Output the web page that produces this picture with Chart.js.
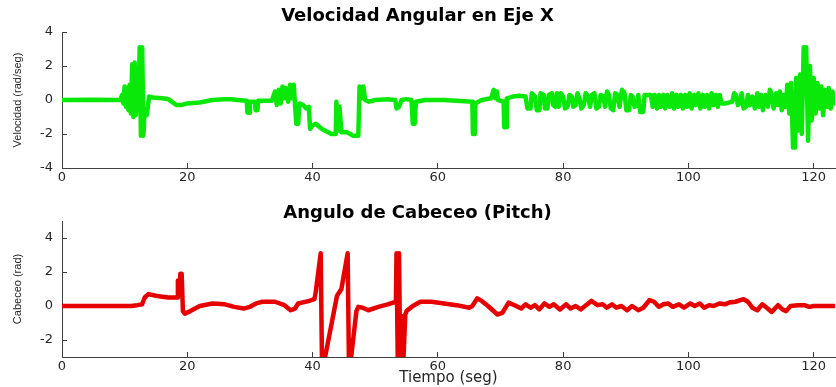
<!DOCTYPE html>
<html>
<head>
<meta charset="utf-8">
<script src="https://cdn.jsdelivr.net/npm/chart.js@4.4.1/dist/chart.umd.min.js"></script>
<style>
html,body{margin:0;padding:0;background:#fff;}
#top{position:absolute;left:0;top:0;width:836px;height:195px;}
#bot{position:absolute;left:0;top:195px;width:836px;height:192px;}
</style>
</head>
<body>
<div id="top"><canvas id="c1"></canvas></div>
<div id="bot"><canvas id="c2"></canvas></div>
<script>
// ---- data ----
const titleTop = "Velocidad Angular en Eje X";
const titleBottom = "Angulo de Cabeceo (Pitch)";
const yLabelTop = "Velocidad (rad/seg)";
const yLabelBottom = "Cabeceo (rad)";
const xLabel = "Tiempo (seg)";

const xTicks = [0, 20, 40, 60, 80, 100, 120];
const yTicksTop = [-4, -2, 0, 2, 4];
const yTicksBottom = [-2, 0, 2, 4];

const velTime = [0,5,9.3,9.6,9.8,10.0,10.2,10.4,10.6,10.8,11.0,11.2,11.4,11.6,11.8,12.0,12.2,12.4,12.6,12.8,13.0,13.2,13.5,13.7,13.9,14.5,16,17,17.5,18.3,19,20,22,24,26,27,28,29.5,29.6,29.9,30.0,30.8,30.9,31.2,31.3,33.5,34.0,34.3,34.6,34.9,35.2,35.5,35.8,36.1,36.4,36.7,37.0,37.2,37.4,37.7,37.9,38.5,39.0,39.4,39.6,40.0,40.5,41.5,43,43.7,43.8,44.1,44.3,44.6,45.5,46.5,47.3,47.5,47.8,48.1,48.4,49,50,52,53.2,53.4,53.8,54.2,55,55.8,56.0,56.3,56.5,58,61,63,65.5,65.6,65.9,66.0,67,68.5,68.9,69.2,69.4,69.6,70.5,70.6,70.9,71.0,72,73,74,74.3,74.8,75.0,75.5,75.8,76.2,76.4,76.9,77.1,77.5,77.7,78.2,78.4,78.8,79.0,79.3,79.6,80.0,80.3,80.7,81.0,81.4,81.6,82.0,82.3,82.6,82.9,83.3,83.6,84.0,84.3,84.6,85.0,85.3,85.7,86.0,86.4,86.7,87.0,87.3,87.6,88.0,88.3,88.7,89.0,89.4,89.8,90.1,90.5,90.8,91.1,91.4,91.8,92.0,92.3,92.8,93.0,94.0,94.3,94.6,95.0,95.3,95.6,96.0,96.3,96.6,97.0,97.4,97.7,98.1,98.4,98.8,99.1,99.5,99.8,100.2,100.5,100.9,101.2,101.6,101.9,102.3,102.6,103.0,103.3,103.7,104.0,104.4,104.7,105.0,105.3,106,107,107.3,107.6,107.9,108.2,108.5,108.8,109.2,109.5,109.8,110.2,110.6,111.0,111.3,111.6,111.9,112.3,112.7,113.0,113.3,113.6,114.0,114.3,114.6,114.9,115.2,115.5,115.8,116.1,116.4,116.7,117.0,117.2,117.5,117.8,118.1,118.4,118.8,119.1,119.4,119.7,120.0,120.3,120.6,120.9,121.2,121.5,121.8,122.1,122.4,122.7,123.0,123.3];
const velValue = [0,0.02,0,0.3,-0.2,0.8,-0.4,0.7,-0.6,0.9,-0.8,2.1,-1.0,2.2,-0.9,1.5,-0.6,3.1,-2.1,3.1,-2.1,-0.5,-0.9,-0.4,0.2,0.15,0.1,0.05,-0.1,-0.3,-0.3,-0.2,-0.15,0,0.05,0.05,0,-0.05,-0.75,-0.75,-0.1,-0.1,-0.6,-0.6,-0.05,-0.05,0.5,-0.3,0.6,-0.2,0.8,0.1,0.7,-0.1,0.9,0.1,0.9,-0.3,-1.4,-1.4,-0.2,-0.3,-0.5,-0.4,-1.7,-1.5,-1.4,-1.7,-2.0,-2.0,-0.1,-1.8,-0.4,-1.9,-1.9,-2.1,-2.1,0.8,0.1,0.8,0,-0.1,0,0.05,0,-0.5,-0.4,0,0.05,0,-1.4,-1.4,-0.1,0,0,-0.05,-0.1,-2.0,-2.0,-0.2,0,0.1,0.6,0.1,0.5,0,-0.1,-1.6,-1.6,0.1,0.2,0.25,0.2,-0.5,-0.5,0.4,0.2,-0.6,-0.6,0.4,0.3,-0.5,-0.5,0.3,0.4,-0.3,-0.4,0.4,-0.4,0.4,0.2,-0.5,-0.4,0.3,0.2,-0.4,-0.3,0.4,0.1,-0.5,-0.3,0.4,0.2,-0.4,0.3,0.4,-0.5,-0.4,0.3,0.2,-0.4,0.5,0.3,-0.5,-0.6,0.4,0.3,-0.4,0.6,0.4,-0.6,-0.6,0.3,0.2,-0.4,-0.3,0.3,-0.7,-0.7,0.3,0.3,-0.4,0.3,-0.5,0.3,-0.4,0.3,-0.5,0.3,-0.4,0.4,-0.5,0.3,-0.4,0.3,-0.5,0.3,-0.4,0.4,-0.5,0.3,-0.3,0.4,-0.5,0.3,-0.4,0.3,-0.5,0.4,-0.3,0.3,-0.4,0.3,-0.2,-0.2,-0.1,0.4,0.3,-0.3,-0.2,0.4,-0.5,-0.4,0.3,-0.3,0.2,-0.5,0.4,-0.4,0.3,-0.6,0.3,-0.4,0.6,0.3,-0.5,0.4,-0.3,0.5,-0.6,0.3,-0.4,0.9,-0.8,1.0,-2.8,-2.8,1.3,-1.8,1.5,-2.0,3.1,3.1,-2.4,2.0,-1.2,1.3,-0.8,1.0,-0.5,0.8,-0.9,0.6,-0.4,0.7,-0.5,0.5,-0.2];

const pitchTime = [0,11,12,12.8,13.2,13.8,15,16,17,18.4,18.5,18.7,18.9,19.0,19.1,19.3,19.6,20.5,22,24,26,27.5,29,30,31,32,34,35.5,36.5,37.2,37.7,39.5,40.3,40.5,41.3,41.5,41.9,43.9,44.6,45.6,45.8,46.1,47.0,47.3,48,48.9,50.5,52,53.3,53.4,53.6,53.8,54.0,54.3,54.5,54.8,55,56,57.2,59,61,63,65,65.5,66.3,67,68,69.5,70.3,71.3,72.5,73.3,74,74.8,75.5,76.2,77,77.8,78.5,79.5,80.5,81.2,82.0,82.8,83.5,84.5,85.5,86.3,87,87.8,88.5,89.3,90.2,91,92.0,92.8,93.8,94.5,95.3,96,96.8,97.5,98.5,99.3,100.3,101.0,101.8,102.5,103.3,104,105,105.8,106.5,107.5,108.8,109.5,110.2,111.0,111.8,112.5,113.3,114.3,115.0,115.6,116.3,117.5,118.5,119.3,120,123.6];
const pitchValue = [0,0,0.05,0.1,0.5,0.7,0.6,0.55,0.5,0.5,1.5,0.8,1.9,1.0,1.9,-0.3,-0.45,-0.3,0,0.15,0.1,-0.05,-0.15,-0.05,0.15,0.25,0.25,0.05,-0.25,-0.15,0.15,0.3,0.4,0.8,3.1,-3.2,-3.2,0.6,1.0,3.1,-3.2,-3.2,-0.3,-0.05,-0.1,-0.25,-0.05,0.1,0.25,3.1,-3.2,3.1,-3.2,-0.6,-3.2,-0.5,-0.3,0.0,0.25,0.25,0.15,0.05,-0.1,0.0,0.45,0.3,0.0,-0.5,-0.4,0.2,0.0,-0.15,0.1,-0.1,0.05,-0.2,0.15,-0.05,0.1,-0.2,0.1,-0.15,0.0,-0.2,0.0,0.3,0.05,0.1,-0.1,0.1,-0.1,0.0,-0.25,0.0,-0.25,-0.1,0.35,0.25,-0.05,0.1,0.15,-0.05,0.1,-0.1,0.15,0.0,0.15,-0.1,0.05,0.0,0.15,0.1,0.2,0.25,0.4,0.25,-0.1,-0.25,0.1,-0.1,-0.35,0.05,-0.2,-0.3,0.0,0.05,0.05,-0.05,0,0];

// ---- styling ----
const axisColor = '#404040';
const tickFont = {family: "'DejaVu Sans', sans-serif", size: 13};
const titleFont = {family: "'DejaVu Sans', sans-serif", size: 18, weight: 'bold', lineHeight: 1};
const yTitleFont = {family: "'Liberation Sans', sans-serif", size: 11, lineHeight: 1.2};
const X_MAX = 123.4;

function pts(t, v) { return t.map((x, i) => ({x: x, y: v[i]})); }

function makeChart(id, cfg) {
  return new Chart(document.getElementById(id), {
    type: 'line',
    data: {datasets: [{
      data: pts(cfg.t, cfg.v),
      borderColor: cfg.color,
      borderWidth: 4.5,
      pointRadius: 0,
      tension: 0,
      borderJoinStyle: 'round',
      borderCapStyle: 'round'
    }]},
    options: {
      responsive: true,
      maintainAspectRatio: false,
      animation: false,
      events: [],
      layout: {padding: {left: 0, right: 1, top: 0, bottom: 0}},
      plugins: {
        legend: {display: false},
        tooltip: {enabled: false},
        title: {display: true, text: cfg.title, color: '#000', font: titleFont,
                padding: cfg.titlePad}
      },
      scales: {
        x: {
          type: 'linear', min: 0, max: X_MAX,
          afterBuildTicks: s => { s.ticks = xTicks.map(v => ({value: v})); },
          afterFit: s => { s.height = cfg.xHeight; },
          grid: {drawOnChartArea: false, drawTicks: true, tickLength: -5, color: axisColor},
          border: {display: true, color: axisColor, width: 1},
          ticks: {color: '#262626', font: tickFont, padding: 7, maxRotation: 0, autoSkip: false},
          title: cfg.xTitle ? {display: true, text: cfg.xTitle, color: '#262626',
                  font: {family: "'DejaVu Sans', sans-serif", size: 15, lineHeight: 1.2},
                  padding: {top: 0, bottom: 0}} : {display: false}
        },
        y: {
          type: 'linear', min: cfg.ymin, max: cfg.ymax,
          afterBuildTicks: s => { s.ticks = cfg.yTicks.map(v => ({value: v})); },
          afterFit: s => { s.width = 62; },
          grid: {drawOnChartArea: false, drawTicks: true, tickLength: -5, color: axisColor},
          border: {display: true, color: axisColor, width: 1},
          ticks: {color: '#262626', font: tickFont, padding: 14, autoSkip: false},
          title: {display: true, text: cfg.yTitle, color: '#262626', font: yTitleFont,
                  padding: {top: 11, bottom: 0}}
        }
      }
    }
  });
}

makeChart('c1', {
  t: velTime, v: velValue, color: '#0ae80a', title: titleTop,
  titlePad: {top: 7, bottom: 7}, xHeight: 27,
  ymin: -4, ymax: 4, yTicks: yTicksTop, yTitle: yLabelTop, xTitle: null
});
makeChart('c2', {
  t: pitchTime, v: pitchValue, color: '#e60000', title: titleBottom,
  titlePad: {top: 9, bottom: -1}, xHeight: 30,
  ymin: -3, ymax: 5, yTicks: yTicksBottom, yTitle: yLabelBottom, xTitle: xLabel
});
</script>
</body>
</html>
